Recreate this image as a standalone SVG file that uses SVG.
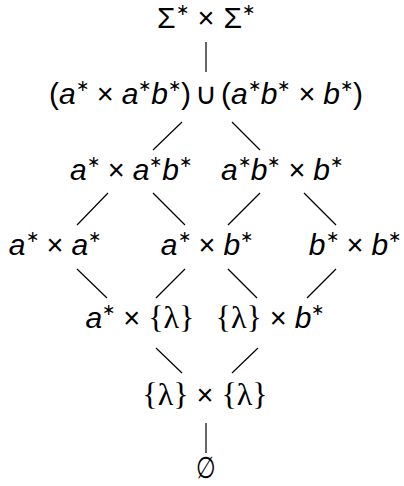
<svg xmlns="http://www.w3.org/2000/svg" width="404" height="486" viewBox="0 0 404 486">
<style>
text{font-family:"Liberation Sans",Arial,sans-serif;font-size:30px;fill:#000;text-anchor:middle}
.i{font-style:italic}
.s{font-size:16px}
.x{font-size:29px}
.r{font-family:"Liberation Serif","Times New Roman",serif;font-size:32px}
.c line{stroke:#000;stroke-width:1.2}
</style>
<rect width="404" height="486" fill="#fff"/>
<g class="c" id="connectors">
<line x1="206" y1="42" x2="206" y2="72"/>
<line x1="182" y1="122" x2="153" y2="150"/>
<line x1="232" y1="122" x2="260" y2="150"/>
<line x1="108" y1="193" x2="77" y2="225"/>
<line x1="153" y1="193" x2="185" y2="225"/>
<line x1="260" y1="193" x2="228" y2="225"/>
<line x1="304" y1="193" x2="336" y2="225"/>
<line x1="77" y1="269" x2="107" y2="298"/>
<line x1="185" y1="269" x2="156" y2="298"/>
<line x1="228" y1="269" x2="257" y2="298"/>
<line x1="336" y1="269" x2="307" y2="298"/>
<line x1="156" y1="348" x2="182" y2="373"/>
<line x1="258" y1="348" x2="232" y2="373"/>
<line x1="206" y1="423" x2="206" y2="453"/>
</g>
<g id="n1"><text x="206" y="28">Σ<tspan class="s" dy="-13">∗</tspan><tspan class="x" dx="9" dy="13">×</tspan><tspan dx="9">Σ</tspan><tspan class="s" dy="-13">∗</tspan></text></g>
<g id="n2"><text x="206" y="104">(<tspan class="i">a</tspan><tspan class="s" dy="-13">∗</tspan><tspan class="x" dx="8" dy="13">×</tspan><tspan class="i" dx="8">a</tspan><tspan class="s" dy="-13">∗</tspan><tspan class="i" dy="13">b</tspan><tspan class="s" dy="-13">∗</tspan><tspan dy="13">)</tspan><tspan dx="4">∪</tspan><tspan dx="4">(</tspan><tspan class="i">a</tspan><tspan class="s" dy="-13">∗</tspan><tspan class="i" dy="13">b</tspan><tspan class="s" dy="-13">∗</tspan><tspan class="x" dx="8" dy="13">×</tspan><tspan class="i" dx="8">b</tspan><tspan class="s" dy="-13">∗</tspan><tspan dy="13">)</tspan></text></g>
<g id="n3"><text x="131" y="180"><tspan class="i">a</tspan><tspan class="s" dy="-13">∗</tspan><tspan class="x" dx="8" dy="13">×</tspan><tspan class="i" dx="8">a</tspan><tspan class="s" dy="-13">∗</tspan><tspan class="i" dy="13">b</tspan><tspan class="s" dy="-13">∗</tspan></text></g>
<g id="n4"><text x="282" y="180"><tspan class="i">a</tspan><tspan class="s" dy="-13">∗</tspan><tspan class="i" dy="13">b</tspan><tspan class="s" dy="-13">∗</tspan><tspan class="x" dx="8" dy="13">×</tspan><tspan class="i" dx="8">b</tspan><tspan class="s" dy="-13">∗</tspan></text></g>
<g id="n5"><text x="55" y="255"><tspan class="i">a</tspan><tspan class="s" dy="-13">∗</tspan><tspan class="x" dx="8" dy="13">×</tspan><tspan class="i" dx="8">a</tspan><tspan class="s" dy="-13">∗</tspan></text></g>
<g id="n6"><text x="207" y="255"><tspan class="i">a</tspan><tspan class="s" dy="-13">∗</tspan><tspan class="x" dx="8" dy="13">×</tspan><tspan class="i" dx="8">b</tspan><tspan class="s" dy="-13">∗</tspan></text></g>
<g id="n7"><text x="355" y="255"><tspan class="i">b</tspan><tspan class="s" dy="-13">∗</tspan><tspan class="x" dx="8" dy="13">×</tspan><tspan class="i" dx="8">b</tspan><tspan class="s" dy="-13">∗</tspan></text></g>
<g id="n8"><text x="140" y="328"><tspan class="i">a</tspan><tspan class="s" dy="-13">∗</tspan><tspan class="x" dx="8" dy="13">×</tspan><tspan class="r" dx="8">{λ}</tspan></text></g>
<g id="n9"><text x="270" y="328"><tspan class="r">{λ}</tspan><tspan class="x" dx="8">×</tspan><tspan class="i" dx="8">b</tspan><tspan class="s" dy="-13">∗</tspan></text></g>
<g id="n10"><text x="205" y="405"><tspan class="r">{λ}</tspan><tspan class="x" dx="8">×</tspan><tspan class="r" dx="8">{λ}</tspan></text></g>
<g id="n11"><text x="206" y="478" transform="translate(206 0) scale(0.75 1) translate(-206 0)">∅</text></g>
</svg>
